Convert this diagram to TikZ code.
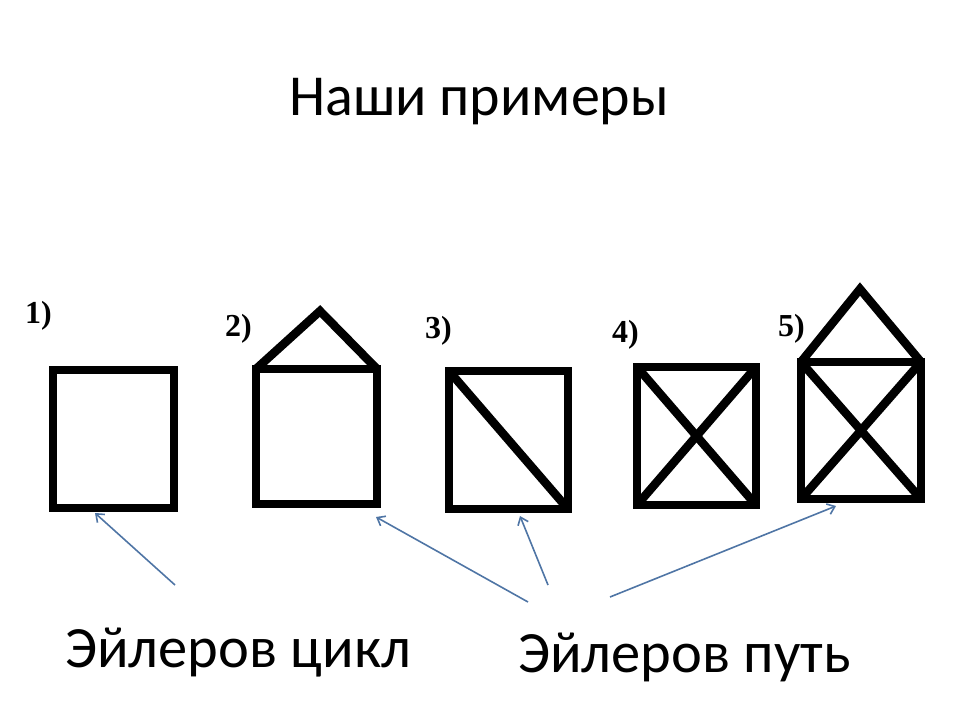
\documentclass[tikz,border=0pt]{standalone}
\usepackage{fontspec}
\setmainfont{Carlito}
\newfontfamily\lblfont{Liberation Serif}
\usetikzlibrary{arrows.meta}
\definecolor{arrowblue}{RGB}{79,117,165}
\tikzset{
  fig/.style={draw=black, line width=8.5pt, inner sep=0pt, outer sep=0pt, line join=miter},
  edge/.style={draw=black, line width=8.5pt, line join=miter},
  numlbl/.style={font=\lblfont\bfseries\fontsize{32}{36}\selectfont, inner sep=0pt, anchor=base west},
  bigtext/.style={font=\fontsize{58.5}{66}\selectfont, inner sep=0pt},
  ptr/.style={draw=arrowblue, line width=1.6pt, -{Straight Barb[length=7pt,width=11pt,line width=1.6pt]}}
}
\begin{document}
\begin{tikzpicture}[x=1pt,y=-1pt]
\useasboundingbox (0,0) rectangle (960,720);
\node[bigtext, font=\fontsize{58}{66}\selectfont, anchor=base] (title) at (479,115) {Наши примеры};

% figures
\node[fig, minimum width=121pt, minimum height=138pt, anchor=north west] (s1) at (53,370) {};
\node[fig, minimum width=121pt, minimum height=135pt, anchor=north west] (s2) at (256,369) {};
\node[fig, minimum width=119pt, minimum height=138pt, anchor=north west] (s3) at (449,371) {};
\node[fig, minimum width=119pt, minimum height=138pt, anchor=north west] (s4) at (637,367) {};
\node[fig, minimum width=120pt, minimum height=137pt, anchor=north west] (s5) at (801,362) {};
\coordinate (r2) at (320,311);
\coordinate (r5) at (860,289);
\draw[edge] (s2.north west) -- (r2) -- (s2.north east);
\draw[edge] (s3.north west) -- (s3.south east);
\draw[edge] (s4.north west) -- (s4.south east);
\draw[edge] (s4.north east) -- (s4.south west);
\draw[edge] (s5.north west) -- (r5) -- (s5.north east);
\draw[edge] (s5.north west) -- (s5.south east);
\draw[edge] (s5.north east) -- (s5.south west);

% numbers
\node[numlbl] (n1) at (25,323) {1)};
\node[numlbl] (n2) at (225,336) {2)};
\node[numlbl] (n3) at (425,338) {3)};
\node[numlbl] (n4) at (612,342) {4)};
\node[numlbl] (n5) at (778,336) {5)};

% captions
\node[bigtext, anchor=base west] (cyc) at (65,667) {Эйлеров цикл};
\node[bigtext, anchor=base west] (path) at (518,672) {Эйлеров путь};

% arrows
\coordinate (t1) at (175,585);
\coordinate (h1) at (95,513);
\coordinate (t2) at (528,602);
\coordinate (h2) at (376,517);
\coordinate (t3) at (548,585);
\coordinate (h3) at (520,516);
\coordinate (t4) at (610,597);
\coordinate (h4) at (836,506);
\draw[ptr] (t1) -- (h1);
\draw[ptr] (t2) -- (h2);
\draw[ptr] (t3) -- (h3);
\draw[ptr] (t4) -- (h4);
\end{tikzpicture}
\end{document}
